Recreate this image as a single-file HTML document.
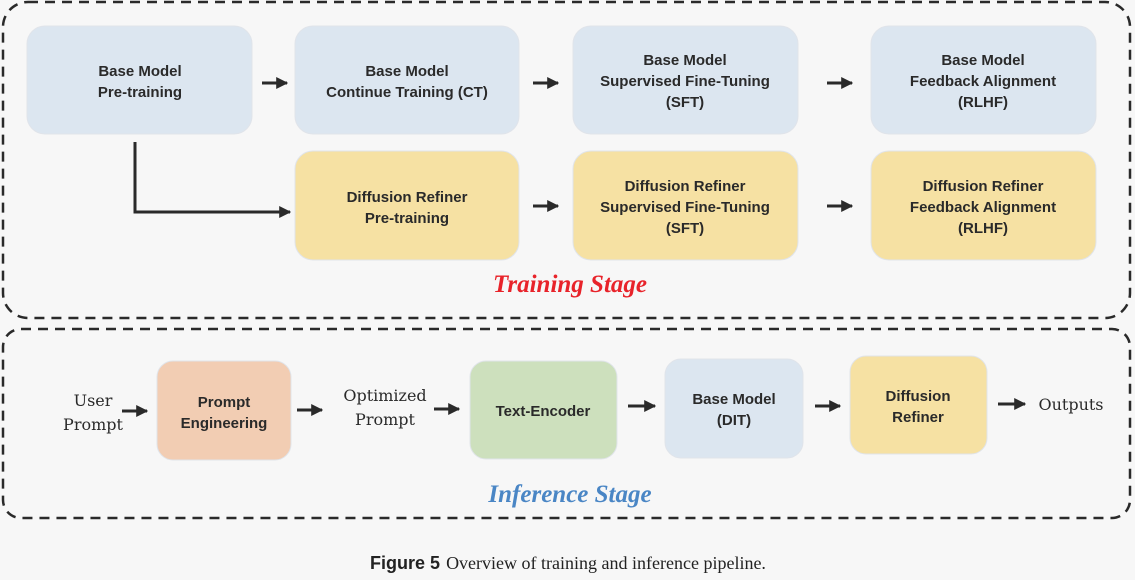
<!DOCTYPE html>
<html><head><meta charset="utf-8"><style>
html,body{margin:0;padding:0;background:#f7f7f7;}
svg{display:block;}
.b{font-family:"Liberation Sans","DejaVu Sans",sans-serif;font-size:15px;font-weight:bold;fill:#2a2a2a;text-anchor:middle;}
.s{font-family:"DejaVu Serif","Liberation Serif",serif;font-size:16px;fill:#2a2a2a;text-anchor:middle;}
</style></head><body>
<svg width="1135" height="580" viewBox="0 0 1135 580" xmlns="http://www.w3.org/2000/svg">
<defs><marker id="a" viewBox="0 0 10 10" refX="9" refY="5" markerWidth="4" markerHeight="4" orient="auto"><path d="M0,0 L10,5 L0,10 z" fill="#2a2a2a"/></marker></defs>
<rect width="1135" height="580" fill="#f7f7f7"/>
<rect x="3" y="2" width="1127" height="316" rx="25" fill="none" stroke="#2a2a2a" stroke-width="2.5" stroke-dasharray="10,7"/>
<rect x="3" y="329" width="1127" height="189" rx="18" fill="none" stroke="#2a2a2a" stroke-width="2.5" stroke-dasharray="10,7"/>
<g stroke="#e0e4ea" stroke-width="1">
<rect x="27" y="26" width="225" height="108" rx="18" fill="#dce6f0"/>
<rect x="295" y="26" width="224" height="108" rx="18" fill="#dce6f0"/>
<rect x="573" y="26" width="225" height="108" rx="18" fill="#dce6f0"/>
<rect x="871" y="26" width="225" height="108" rx="18" fill="#dce6f0"/>
<rect x="295" y="151" width="224" height="109" rx="18" fill="#f6e1a3"/>
<rect x="573" y="151" width="225" height="109" rx="18" fill="#f6e1a3"/>
<rect x="871" y="151" width="225" height="109" rx="18" fill="#f6e1a3"/>
<rect x="157" y="361" width="134" height="99" rx="16" fill="#f2cdb3"/>
<rect x="470" y="361" width="147" height="98" rx="16" fill="#cde0bd"/>
<rect x="665" y="359" width="138" height="99" rx="16" fill="#dce6f0"/>
<rect x="850" y="356" width="137" height="98" rx="16" fill="#f6e1a3"/>
</g>
<g stroke="#2a2a2a" stroke-width="3" fill="none" marker-end="url(#a)">
<line x1="262" y1="83" x2="287" y2="83"/>
<line x1="533" y1="83" x2="558" y2="83"/>
<line x1="827" y1="83" x2="852" y2="83"/>
<line x1="533" y1="206" x2="558" y2="206"/>
<line x1="827" y1="206" x2="852" y2="206"/>
<polyline points="135,142 135,212 290,212"/>
<line x1="122" y1="411" x2="147" y2="411"/>
<line x1="297" y1="410" x2="322" y2="410"/>
<line x1="434" y1="409" x2="459" y2="409"/>
<line x1="628" y1="406" x2="655" y2="406"/>
<line x1="815" y1="406" x2="840" y2="406"/>
<line x1="998" y1="404" x2="1025" y2="404"/>
</g>
<text class="b" x="140" y="76">Base Model</text><text class="b" x="140" y="97">Pre-training</text>
<text class="b" x="407" y="76">Base Model</text><text class="b" x="407" y="97">Continue Training (CT)</text>
<text class="b" x="685" y="65">Base Model</text><text class="b" x="685" y="86">Supervised Fine-Tuning</text><text class="b" x="685" y="107">(SFT)</text>
<text class="b" x="983" y="65">Base Model</text><text class="b" x="983" y="86">Feedback Alignment</text><text class="b" x="983" y="107">(RLHF)</text>
<text class="b" x="407" y="202">Diffusion Refiner</text><text class="b" x="407" y="223">Pre-training</text>
<text class="b" x="685" y="191">Diffusion Refiner</text><text class="b" x="685" y="212">Supervised Fine-Tuning</text><text class="b" x="685" y="233">(SFT)</text>
<text class="b" x="983" y="191">Diffusion Refiner</text><text class="b" x="983" y="212">Feedback Alignment</text><text class="b" x="983" y="233">(RLHF)</text>
<text x="570" y="292" style="font-family:'Liberation Serif',serif;font-size:25px;font-weight:bold;font-style:italic;fill:#e8232a;text-anchor:middle">Training Stage</text>
<text class="s" x="93" y="406">User</text><text class="s" x="93" y="430">Prompt</text>
<text class="b" x="224" y="407">Prompt</text><text class="b" x="224" y="428">Engineering</text>
<text class="s" x="385" y="401">Optimized</text><text class="s" x="385" y="425">Prompt</text>
<text class="b" x="543" y="416">Text-Encoder</text>
<text class="b" x="734" y="404">Base Model</text><text class="b" x="734" y="425">(DIT)</text>
<text class="b" x="918" y="401">Diffusion</text><text class="b" x="918" y="422">Refiner</text>
<text class="s" x="1071" y="410">Outputs</text>
<text x="570" y="502" style="font-family:'Liberation Serif',serif;font-size:25px;font-weight:bold;font-style:italic;fill:#4a86c5;text-anchor:middle">Inference Stage</text>
<text x="568" y="569" style="font-size:18px;fill:#222;text-anchor:middle"><tspan style="font-family:'Liberation Sans',sans-serif;font-weight:bold">Figure 5</tspan><tspan style="font-family:'Liberation Serif',serif" dx="6">Overview of training and inference pipeline.</tspan></text>
</svg>
</body></html>
